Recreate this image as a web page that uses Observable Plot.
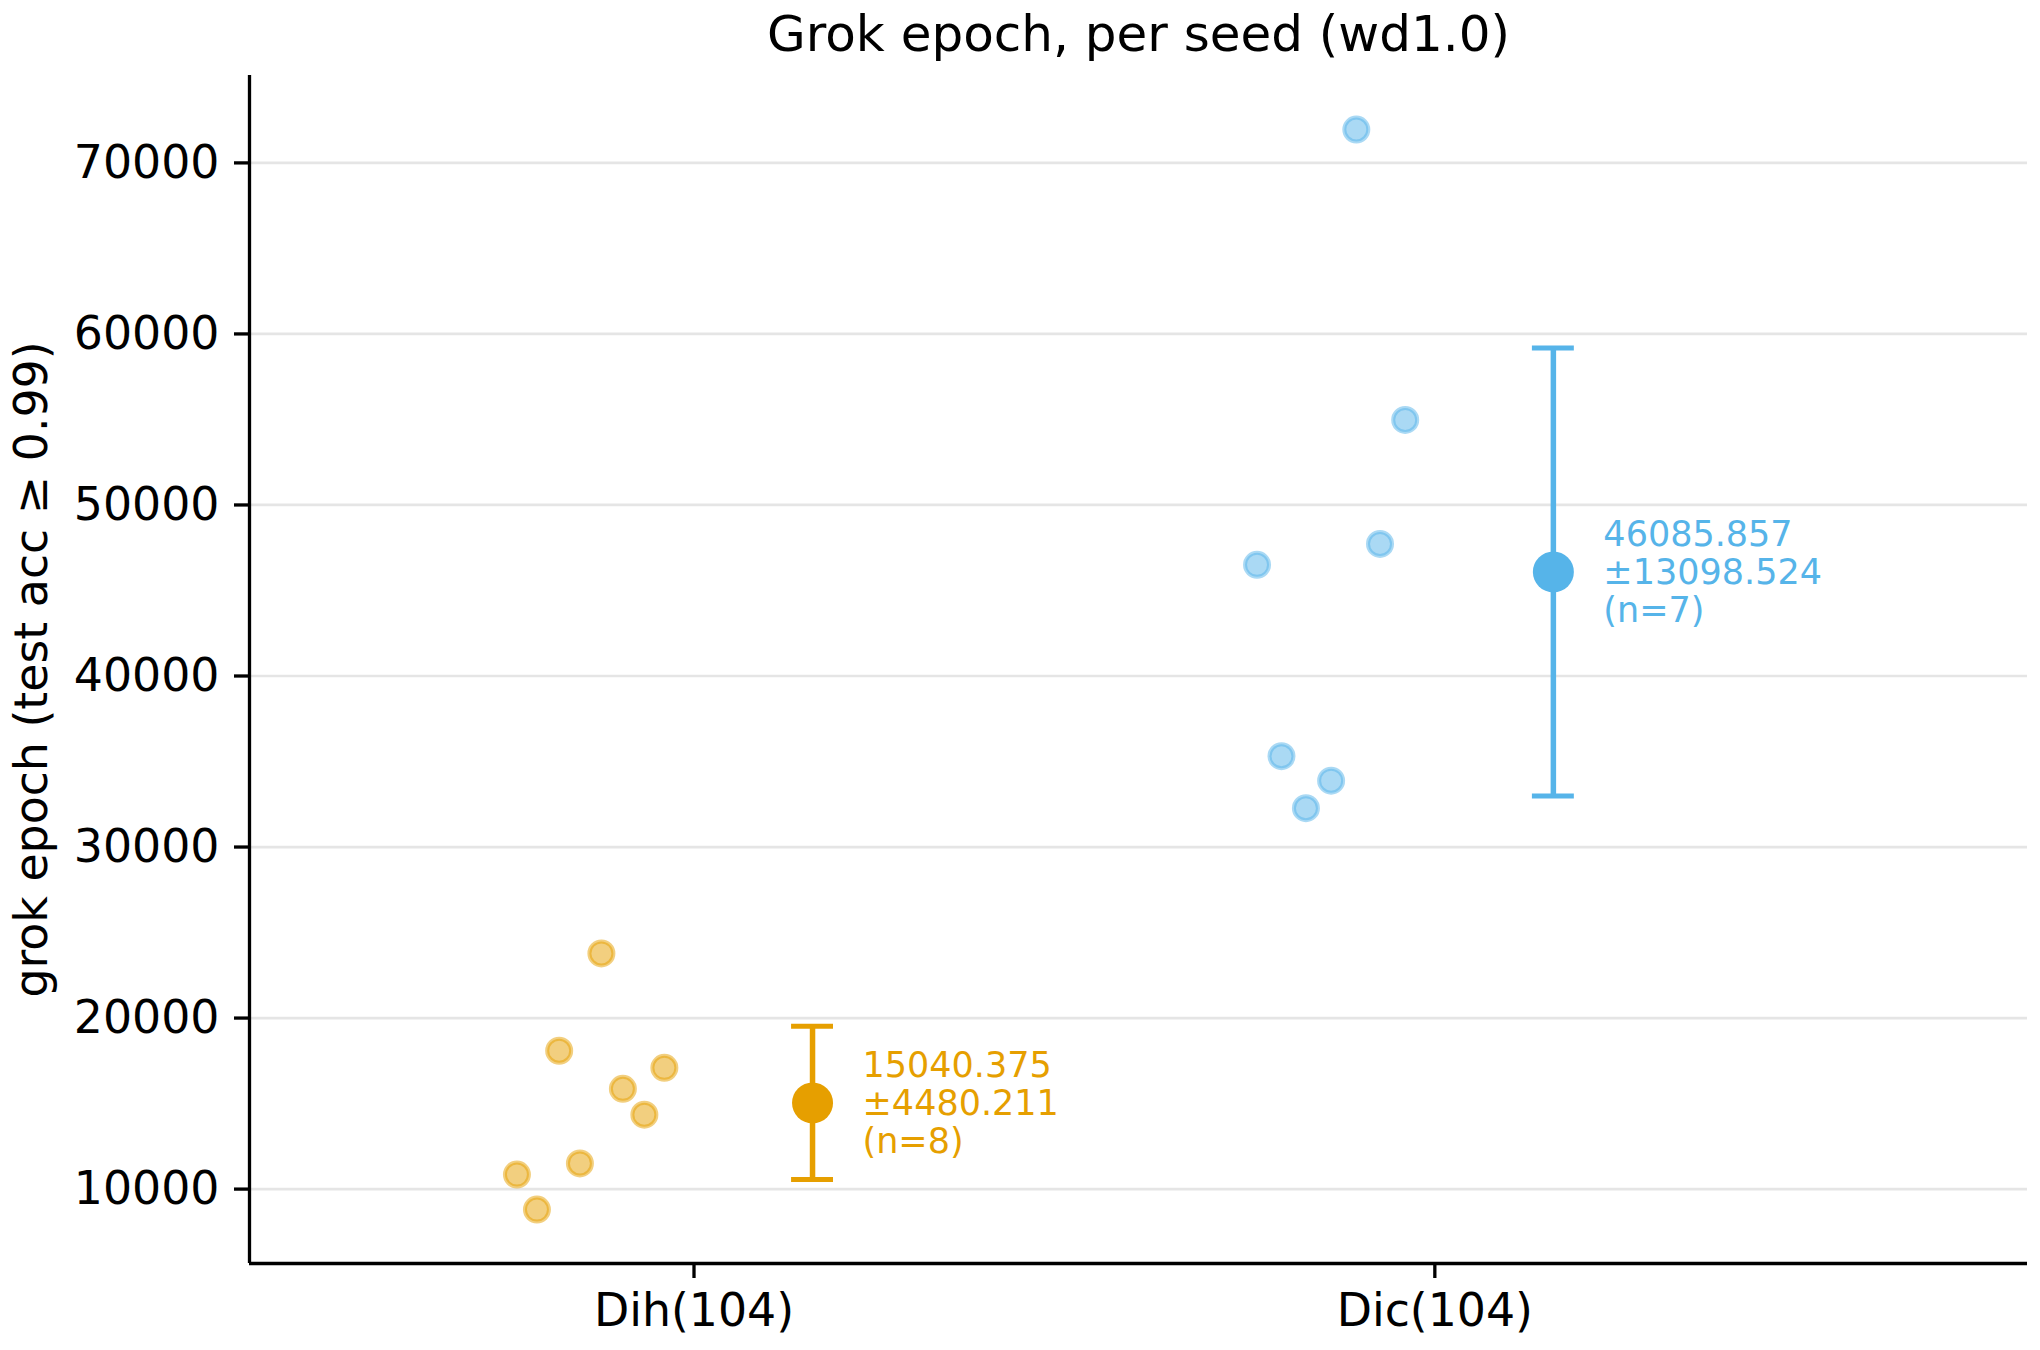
<!DOCTYPE html>
<html>
<head>
<meta charset="utf-8">
<script src="https://cdn.jsdelivr.net/npm/d3@7"></script>
<script src="https://cdn.jsdelivr.net/npm/@observablehq/plot@0.6"></script>
<style>
  html, body { margin: 0; padding: 0; background: white; }
</style>
</head>
<body>
<div id="chart"></div>
<script>
// ---- data ----
const categories = ["Dih(104)", "Dic(104)"];
const colors = ["#E69F00", "#56B4E9"];
const dihValues = [10850, 8800, 18090, 11500, 23780, 15860, 14350, 17090];
const dihJitter = [-0.239, -0.212, -0.182, -0.154, -0.125, -0.096, -0.067, -0.040];
const dicValues = [46500, 35310, 32270, 33880, 71950, 47720, 54970];
const dicJitter = [-0.240, -0.207, -0.174, -0.140, -0.106, -0.074, -0.040];
const means = [15040.375, 46085.857];
const sds = [4480.211, 13098.524];
const counts = [8, 7];
const yTicks = [10000, 20000, 30000, 40000, 50000, 60000, 70000];
const xDomain = [-0.6, 1.8];
const yDomain = [5650, 75110];
const title = "Grok epoch, per seed (wd1.0)";
const yLabel = "grok epoch (test acc \u2265 0.99)";

// ---- derived tables ----
const meanOffset = 0.16;
const capHalf = 0.0283;
const points = [
  ...dihValues.map((v, i) => ({g: 0, x: 0 + dihJitter[i], y: v})),
  ...dicValues.map((v, i) => ({g: 1, x: 1 + dicJitter[i], y: v}))
];
const stats = means.map((m, i) => ({g: i, x: i + meanOffset, mean: m, sd: sds[i], n: counts[i]}));
const caps = stats.flatMap(d => [{...d, y: d.mean - d.sd}, {...d, y: d.mean + d.sd}]);

const chart = Plot.plot({
  width: 2040,
  height: 1350,
  marginTop: 75,
  marginBottom: 87,
  marginLeft: 249,
  marginRight: 13,
  style: {fontFamily: "DejaVu Sans", background: "white", color: "black"},
  x: {domain: xDomain},
  y: {domain: yDomain},
  marks: [
    Plot.gridY(yTicks, {stroke: "#e5e5e5", strokeOpacity: 1, strokeWidth: 2.7}),
    Plot.axisY(yTicks, {tickSize: 15, tickPadding: 15, tickFormat: d3.format("d"), fontSize: 45.8, strokeWidth: 3.3, label: null}),
    Plot.axisX([0, 1], {tickSize: 15, tickPadding: 15, tickFormat: i => categories[i], fontSize: 45.8, strokeWidth: 3.3, label: null}),
    Plot.ruleX([xDomain[0]], {stroke: "black", strokeWidth: 3.3}),
    Plot.ruleY([yDomain[0]], {stroke: "black", strokeWidth: 3.3}),
    Plot.dot(points, {x: "x", y: "y", r: 12, fill: d => colors[d.g], fillOpacity: 0.5, stroke: d => colors[d.g], strokeOpacity: 0.5, strokeWidth: 4}),
    Plot.ruleX(stats, {x: "x", y1: d => d.mean - d.sd, y2: d => d.mean + d.sd, stroke: d => colors[d.g], strokeWidth: 5.5}),
    Plot.ruleY(caps, {y: "y", x1: d => d.x - capHalf, x2: d => d.x + capHalf, stroke: d => colors[d.g], strokeWidth: 5}),
    Plot.dot(stats, {x: "x", y: "mean", r: 20.5, fill: d => colors[d.g]}),
    Plot.text(stats, {
      x: "x", y: "mean",
      text: d => `${d.mean.toFixed(3)}\n\u00b1${d.sd.toFixed(3)}\n(n=${d.n})`,
      textAnchor: "start", lineAnchor: "middle", dx: 50, fontSize: 35, lineHeight: 1.085,
      fill: d => colors[d.g]
    }),
    Plot.text([title], {frameAnchor: "top", lineAnchor: "bottom", dy: -25, fontSize: 50, fill: "black"}),
    Plot.text([yLabel], {frameAnchor: "left", rotate: -90, dx: -217, textAnchor: "middle", lineAnchor: "middle", fontSize: 45.8, fill: "black"})
  ]
});
document.getElementById("chart").appendChild(chart);
</script>
</body>
</html>
